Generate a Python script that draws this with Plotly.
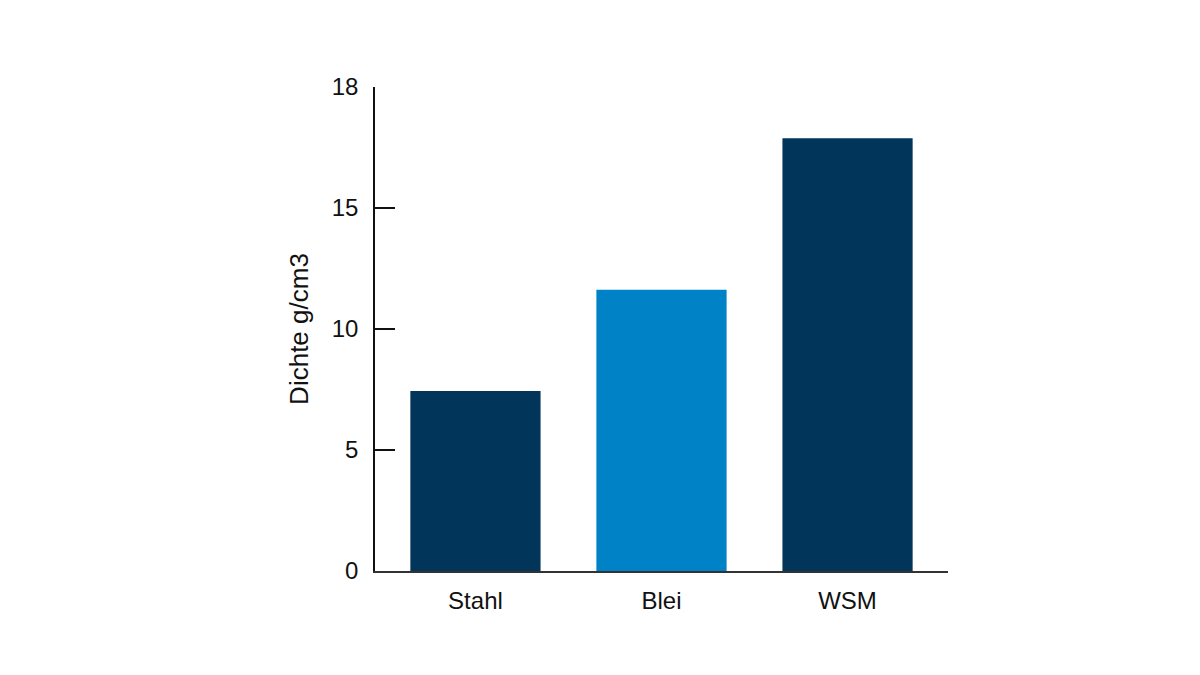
import plotly.graph_objects as go

categories = ["Stahl", "Blei", "WSM"]
values = [7.44, 11.62, 17.88]
colors = ["#02355A", "#0082C6", "#02355A"]
tick_vals = [0, 5, 10, 15, 20]
tick_text = ["0", "5", "10", "15", "18"]

fig = go.Figure(go.Bar(x=categories, y=values, marker_color=colors, width=0.7,
                       marker_line_width=0))
fig.update_layout(
    width=1200, height=675,
    margin=dict(l=375, r=252, t=87, b=104),
    paper_bgcolor="white", plot_bgcolor="white",
    font=dict(family="Liberation Sans, Arial, sans-serif", color="#111111"),
    showlegend=False,
)
fig.update_xaxes(range=[-0.54, 2.54], showline=True, linecolor="#333333", linewidth=2,
                 ticks="", tickfont=dict(size=24), ticklabelstandoff=7, showgrid=False)
fig.update_yaxes(range=[0, 20], tickvals=tick_vals, ticktext=tick_text, showline=True,
                 linecolor="#111111", linewidth=1.5, ticks="inside", ticklen=20,
                 tickcolor="#111111", tickwidth=1.5, tickfont=dict(size=24),
                 ticklabelstandoff=10, showgrid=False, zeroline=False,
                 title=dict(text="Dichte g/cm3", font=dict(size=26), standoff=16))
fig.write_html("out.html")
